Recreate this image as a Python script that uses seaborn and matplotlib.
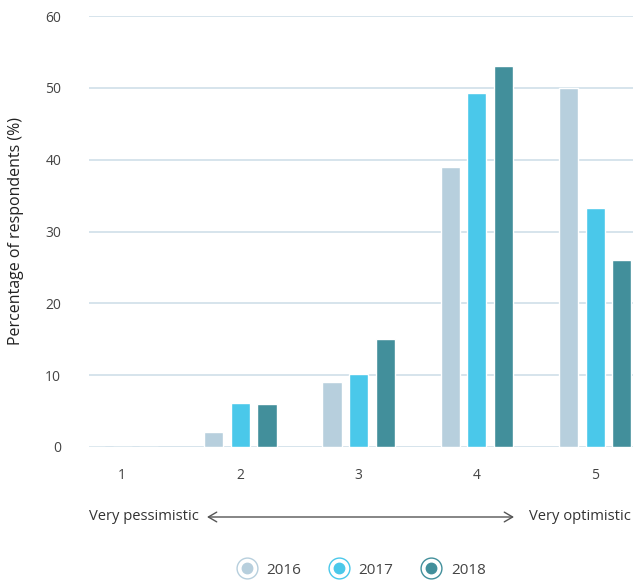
import matplotlib
matplotlib.use("Agg")
import matplotlib.pyplot as plt
from matplotlib.lines import Line2D
from matplotlib.legend_handler import HandlerTuple
import seaborn as sns
import pandas as pd

# Survey outlook scale (1 = very pessimistic, 5 = very optimistic)
categories = ["1", "2", "3", "4", "5"]
years = ["2016", "2017", "2018"]
values_2016 = [0, 2.1, 9.0, 39.0, 50.0]
values_2017 = [0, 6.1, 10.2, 49.3, 33.3]
values_2018 = [0, 6.0, 15.0, 53.1, 26.0]
colors = ["#b7cfdd", "#4ac8ea", "#428f9b"]

df = pd.DataFrame({
    "category": categories * 3,
    "year": [y for y in years for _ in categories],
    "value": values_2016 + values_2017 + values_2018,
})

sns.set_style("white")
plt.rcParams["font.family"] = ["Open Sans", "DejaVu Sans"]

fig = plt.figure(figsize=(6.33, 5.85), dpi=100)
ax = fig.add_axes([0.1406, 0.2359, 0.8594, 0.7367])

sns.barplot(data=df, x="category", y="value", hue="year", order=categories,
            hue_order=years, palette=colors, saturation=1, width=0.675,
            gap=0.28, ax=ax, legend=False)

ax.set_ylim(0, 60)
ax.set_xlim(-0.28, 4.32)
ax.set_yticks(range(0, 61, 10))
ax.yaxis.grid(True, color="#d3e2ea", linewidth=1.3)
ax.set_axisbelow(True)
for s in ax.spines.values():
    s.set_visible(False)
ax.tick_params(axis="both", length=0, labelsize=10, labelcolor="#444444")
ax.tick_params(axis="y", pad=20)
ax.tick_params(axis="x", pad=15)
ax.set_xlabel("")
ax.set_ylabel("")
fig.text(16 / 633, 1 - 231 / 585, "Percentage of respondents (%)", rotation=90,
         ha="center", va="center", fontsize=11.5, color="#222222")

# Scale description beneath the categories
fig.text(89 / 633, 1 - 517 / 585, "Very pessimistic", ha="left", va="center",
         fontsize=10.6, color="#333333")
fig.text(631 / 633, 1 - 517 / 585, "Very optimistic", ha="right", va="center",
         fontsize=10.6, color="#333333")
ax.annotate("", xy=(514 / 633, 1 - 517 / 585), xytext=(207 / 633, 1 - 517 / 585),
            xycoords="figure fraction", textcoords="figure fraction",
            arrowprops=dict(arrowstyle="<->,head_length=0.6,head_width=0.35",
                            color="#555555", lw=1.0, shrinkA=0, shrinkB=0))

# Ringed-dot legend entries
handles = []
for c in colors:
    ring = Line2D([], [], linestyle="none", marker="o", markersize=15,
                  markerfacecolor="white", markeredgecolor=c, markeredgewidth=1.0)
    dot = Line2D([], [], linestyle="none", marker="o", markersize=7.5,
                 markerfacecolor=c, markeredgecolor=c)
    handles.append((ring, dot))
fig.legend(handles, years, handler_map={tuple: HandlerTuple(ndivide=1, pad=0)},
           loc="center", bbox_to_anchor=(0.570, 1 - 570 / 585), ncol=3,
           frameon=False, fontsize=11, handlelength=1.4, handletextpad=0.6,
           columnspacing=1.75, labelcolor="#444444")

fig.savefig("out.png", dpi=100)
